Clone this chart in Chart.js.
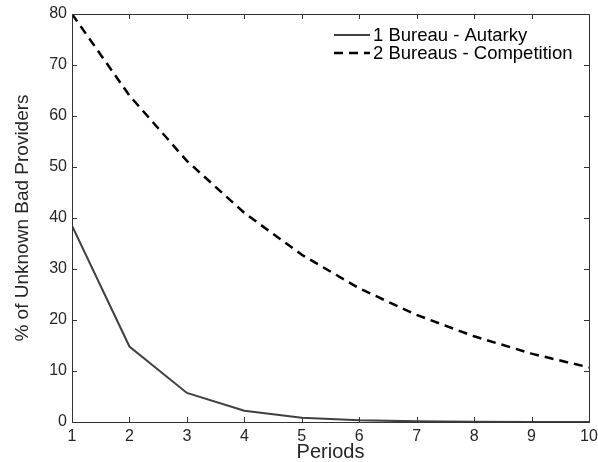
<!DOCTYPE html>
<html>
<head>
<meta charset="utf-8">
<script src="https://cdn.jsdelivr.net/npm/chart.js@4/dist/chart.umd.min.js"></script>
<style>
  html, body { margin: 0; padding: 0; background: #fff; }
  #wrap { width: 598px; height: 462px; }
</style>
</head>
<body>
<div id="wrap"><canvas id="myChart"></canvas></div>
<script>
const periods = [1, 2, 3, 4, 5, 6, 7, 8, 9, 10];
const autarky = [38.5, 14.8, 5.7, 2.2, 0.85, 0.33, 0.13, 0.05, 0.02, 0.01];
const competition = [80, 64, 51.2, 41, 32.8, 26.2, 21, 16.8, 13.4, 10.7];
const seriesNames = ["1 Bureau - Autarky", "2 Bureaus - Competition"];
const yTicks = [0, 10, 20, 30, 40, 50, 60, 70, 80];

Chart.defaults.font.family = "'Liberation Sans', Arial, Helvetica, sans-serif";
Chart.defaults.color = "#262626";

function toPoints(values){
    return periods.map((p, i) => ({ x: p, y: values[i] }));
}

// box around the plot with inward ticks on all four sides
const boxPlugin = {
    id: "boxTicks",
    afterDraw(chart){
        const ctx = chart.ctx;
        const area = chart.chartArea;
        const xs = chart.scales.x;
        const ys = chart.scales.y;
        const len = 5;
        ctx.save();
        ctx.strokeStyle = "#333333";
        ctx.lineWidth = 1;
        ctx.strokeRect(Math.round(area.left) + 0.5, Math.round(area.top) + 0.5,
            Math.round(area.right - area.left), Math.round(area.bottom - area.top));
        ctx.beginPath();
        periods.forEach(p => {
            const px = Math.round(xs.getPixelForValue(p)) + 0.5;
            ctx.moveTo(px, area.bottom);
            ctx.lineTo(px, area.bottom - len);
            ctx.moveTo(px, area.top);
            ctx.lineTo(px, area.top + len);
        });
        yTicks.forEach(v => {
            const py = Math.round(ys.getPixelForValue(v)) + 0.5;
            ctx.moveTo(area.left, py);
            ctx.lineTo(area.left + len, py);
            ctx.moveTo(area.right, py);
            ctx.lineTo(area.right - len, py);
        });
        ctx.stroke();
        ctx.restore();
    }
};

// legend inside the plot, top right, no frame
const legendPlugin = {
    id: "insideLegend",
    afterDraw(chart){
        const ctx = chart.ctx;
        const x0 = 334, x1 = 370, tx = 373;
        const rows = [35, 53];
        ctx.save();
        ctx.font = "18.5px 'Liberation Sans', Arial, Helvetica, sans-serif";
        ctx.textBaseline = "middle";
        ctx.fillStyle = "#000000";
        chart.data.datasets.forEach((ds, i) => {
            ctx.strokeStyle = ds.borderColor;
            ctx.lineWidth = ds.borderWidth;
            ctx.setLineDash(ds.borderDash || []);
            ctx.beginPath();
            ctx.moveTo(x0, rows[i]);
            ctx.lineTo(x1, rows[i]);
            ctx.stroke();
            ctx.fillText(ds.label, tx, rows[i] + 1);
        });
        ctx.restore();
    }
};

const chart = new Chart("myChart", {
    type: "line",
    data: {
        datasets: [{
            label: seriesNames[0],
            data: toPoints(autarky),
            borderColor: "#404040",
            borderWidth: 2,
            pointRadius: 0,
            tension: 0
        }, {
            label: seriesNames[1],
            data: toPoints(competition),
            borderColor: "#000000",
            borderWidth: 2.5,
            borderDash: [9, 6],
            pointRadius: 0,
            tension: 0
        }]
    },
    options: {
        responsive: true,
        maintainAspectRatio: false,
        animation: false,
        layout: { padding: { top: 14, right: 9, left: 0, bottom: 0 } },
        plugins: {
            legend: { display: false },
            tooltip: { enabled: false }
        },
        scales: {
            x: {
                type: "linear",
                min: 1,
                max: 10,
                grid: { display: false, drawTicks: false },
                border: { display: false },
                afterFit(scale){
                    scale.height = 40;
                    scale.paddingLeft = 0;
                    scale.paddingRight = 0;
                },
                afterBuildTicks(scale){ scale.ticks = periods.map(v => ({ value: v })); },
                ticks: { padding: 5, font: { size: 16 }, maxRotation: 0 },
                title: { display: true, text: "Periods", font: { size: 20, lineHeight: 1 }, padding: { top: 0, bottom: 0 } }
            },
            y: {
                min: 0,
                max: 80,
                grid: { display: false, drawTicks: false },
                border: { display: false },
                afterFit(scale){
                    scale.width = 72;
                    scale.paddingTop = 0;
                    scale.paddingBottom = 0;
                },
                afterBuildTicks(scale){ scale.ticks = yTicks.map(v => ({ value: v })); },
                ticks: { padding: 5, font: { size: 16 } },
                title: { display: true, text: "% of Unknown Bad Providers", font: { size: 19, lineHeight: 1 }, padding: { top: 13, bottom: 0 } }
            }
        }
    },
    plugins: [boxPlugin, legendPlugin]
});
</script>
</body>
</html>
